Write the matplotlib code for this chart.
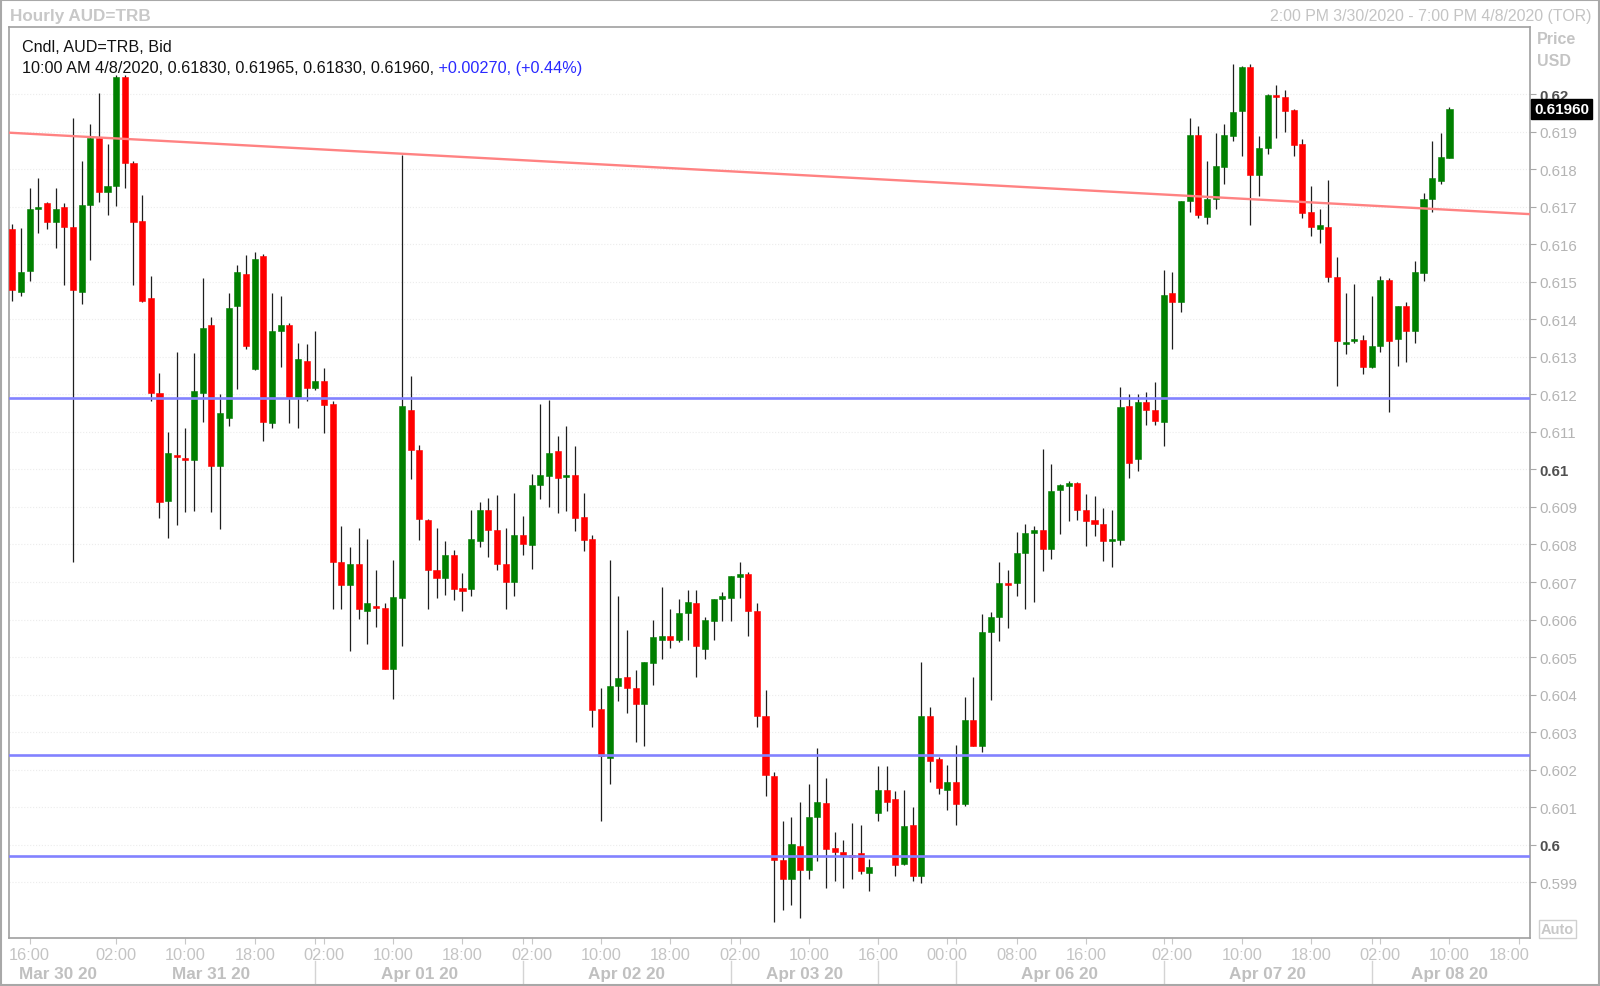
import numpy as np
import matplotlib.pyplot as plt
import matplotlib.transforms as mtransforms
from matplotlib.patches import Rectangle

plt.rcParams['font.family'] = ['Liberation Sans', 'DejaVu Sans']

# hourly candles, index 0 = 2:00 PM 3/30/2020
opens = [
    .61640, .61473, .61528, .61694, .61710, .61660, .61700, .61647, .61473, .61703,
    .61882, .61738, .61754, .62045, .61816, .61662, .61456, .61203, .60917, .61038,
    .61030, .61024, .61203, .61385, .61008, .61138, .61434, .61520, .61267, .61569,
    .61123, .61369, .61385, .61192, .61288, .61218, .61235, .61175, .60752, .60691,
    .60748, .60622, .60637, .60632, .60469, .60658, .61159, .61053, .60865, .60732,
    .60712, .60773, .60683, .60681, .60808, .60892, .60839, .60748, .60701, .60824,
    .60798, .60958, .60982, .61050, .60980, .60985, .60872, .60814, .60363, .60232,
    .60423, .60448, .60418, .60375, .60484, .60545, .60557, .60545, .60618, .60644,
    .60521, .60597, .60654, .60658, .60713, .60722, .60622, .60342, .60182, .59960,
    .59909, .59996, .59933, .60075, .60112, .59992, .59982, .59970, .59977, .59925,
    .60085, .60147, .60122, .59949, .60052, .59918, .60342, .60228, .60147, .60168,
    .60109, .60332, .60264, .60568, .60608, .60697, .60697, .60778, .60830, .60839,
    .60787, .60945, .60957, .60964, .60893, .60866, .60855, .60808, .60813, .61169,
    .61029, .61179, .61158, .61127, .61469, .61445, .61714, .61891, .61673, .61720,
    .61805, .61889, .61956, .62071, .61784, .61856, .61997, .61991, .61957, .61867,
    .61685, .61640, .61647, .61513, .61333, .61343, .61345, .61272, .61328, .61505,
    .61347, .61436, .61368, .61523, .61719, .61769, .61830,
]
highs = [
    .61655, .61642, .61750, .61775, .61712, .61750, .61710, .61935, .61822, .61921,
    .62003, .61868, .62050, .62050, .61822, .61731, .61514, .61256, .61099, .61314,
    .61109, .61309, .61509, .61405, .61201, .61469, .61545, .61571, .61580, .61575,
    .61469, .61461, .61390, .61338, .61334, .61370, .61269, .61181, .60850, .60793,
    .60844, .60814, .60732, .60643, .60758, .61837, .61249, .61065, .60867, .60844,
    .60809, .60785, .60724, .60892, .60913, .60923, .60933, .60844, .60938, .60877,
    .60989, .61173, .61185, .61089, .61115, .61061, .60938, .60824, .60418, .60758,
    .60664, .60572, .60465, .60487, .60599, .60687, .60629, .60654, .60678, .60678,
    .60608, .60656, .60673, .60717, .60754, .60727, .60644, .60413, .60194, .60064,
    .60075, .60115, .60161, .60259, .60177, .60033, .60012, .60058, .60054, .59961,
    .60209, .60209, .60142, .60147, .60101, .60486, .60367, .60235, .60213, .60266,
    .60394, .60448, .60615, .60620, .60754, .60732, .60834, .60854, .60849, .61055,
    .61014, .60960, .60970, .60966, .60934, .60929, .60898, .60892, .61220, .61200,
    .61200, .61205, .61232, .61531, .61525, .61715, .61936, .61916, .61822, .61896,
    .61920, .62080, .62075, .62080, .61889, .62000, .62024, .62012, .61960, .61880,
    .61756, .61695, .61771, .61565, .61469, .61494, .61359, .61461, .61514, .61510,
    .61436, .61445, .61554, .61735, .61876, .61896, .61965,
]
lows = [
    .61449, .61463, .61503, .61630, .61640, .61589, .61492, .60752, .61441, .61559,
    .61713, .61678, .61702, .61749, .61492, .61445, .61183, .60870, .60817, .60853,
    .60886, .60890, .61125, .60886, .60841, .61116, .61214, .61322, .61265, .61076,
    .61111, .61272, .61123, .61111, .61183, .61212, .61096, .60627, .60627, .60515,
    .60602, .60536, .60581, .60469, .60388, .60530, .60974, .60813, .60627, .60658,
    .60665, .60653, .60622, .60663, .60792, .60767, .60732, .60627, .60663, .60773,
    .60736, .60921, .60900, .60885, .60890, .60836, .60782, .60314, .60064, .60161,
    .60382, .60351, .60275, .60264, .60426, .60494, .60525, .60540, .60546, .60446,
    .60496, .60546, .60597, .60597, .60658, .60556, .60315, .60130, .59795, .59825,
    .59840, .59806, .59909, .59956, .59884, .59904, .59884, .59909, .59923, .59878,
    .60064, .60090, .59918, .59945, .59904, .59899, .60166, .60134, .60094, .60052,
    .60104, .60264, .60247, .60386, .60542, .60577, .60663, .60627, .60648, .60730,
    .60762, .60827, .60863, .60865, .60797, .60822, .60756, .60741, .60798, .60977,
    .60996, .61117, .61117, .61063, .61322, .61418, .61687, .61669, .61655, .61694,
    .61760, .61874, .61836, .61651, .61729, .61840, .61883, .61900, .61836, .61669,
    .61623, .61603, .61498, .61223, .61307, .61338, .61254, .61270, .61312, .61154,
    .61276, .61287, .61337, .61503, .61685, .61760, .61830,
]
closes = [
    .61478, .61525, .61695, .61700, .61660, .61695, .61646, .61478, .61704, .61882,
    .61738, .61756, .62045, .61816, .61660, .61449, .61203, .60912, .61045, .61034,
    .61024, .61210, .61376, .61008, .61149, .61431, .61525, .61328, .61560, .61127,
    .61370, .61385, .61192, .61294, .61218, .61235, .61172, .60752, .60691, .60748,
    .60627, .60643, .60632, .60469, .60659, .61168, .61053, .60867, .60732, .60712,
    .60773, .60681, .60676, .60814, .60892, .60838, .60748, .60701, .60824, .60801,
    .60959, .60984, .61044, .60977, .60985, .60870, .60813, .60360, .60237, .60423,
    .60444, .60417, .60375, .60487, .60554, .60557, .60545, .60618, .60648, .60530,
    .60599, .60654, .60664, .60715, .60722, .60622, .60342, .60187, .59960, .59909,
    .60002, .59933, .60075, .60115, .59990, .59980, .59973, .59968, .59930, .59942,
    .60147, .60115, .59945, .60049, .59918, .60342, .60223, .60150, .60168, .60109,
    .60332, .60264, .60568, .60608, .60697, .60691, .60778, .60830, .60838, .60787,
    .60943, .60958, .60964, .60891, .60863, .60854, .60808, .60814, .61165, .61018,
    .61179, .61157, .61129, .61465, .61445, .61714, .61891, .61679, .61720, .61807,
    .61891, .61951, .62071, .61784, .61856, .61997, .61991, .61956, .61865, .61683,
    .61645, .61651, .61513, .61343, .61340, .61344, .61272, .61330, .61505, .61343,
    .61436, .61368, .61525, .61720, .61776, .61833, .61960,
]

support_levels = [0.61190, 0.60238, 0.59970]
trend_x = [-0.4, 175.3]
trend_y = [0.61897, 0.61680]
last_price = 0.61960

xtick_pos = [2, 12, 20, 28, 36, 44, 52, 60, 68, 76, 84, 92, 100, 108, 116, 124,
             134, 142, 150, 158, 166, 174]
xtick_labels = ['16:00', '02:00', '10:00', '18:00', '02:00', '10:00', '18:00', '02:00',
                '10:00', '18:00', '02:00', '10:00', '16:00', '00:00', '08:00', '16:00',
                '02:00', '10:00', '18:00', '02:00', '10:00', '18:00']
day_pos = [5.3, 23, 47, 71, 91.5, 121, 145, 166]
day_labels = ['Mar 30 20', 'Mar 31 20', 'Apr 01 20', 'Apr 02 20', 'Apr 03 20',
              'Apr 06 20', 'Apr 07 20', 'Apr 08 20']
day_breaks = [35, 59, 83, 100, 109, 133, 157]
ytick_vals = [0.599, 0.600, 0.601, 0.602, 0.603, 0.604, 0.605, 0.606, 0.607, 0.608,
              0.609, 0.610, 0.611, 0.612, 0.613, 0.614, 0.615, 0.616, 0.617, 0.618,
              0.619, 0.620]
ytick_labels = ['0.599', '0.6', '0.601', '0.602', '0.603', '0.604', '0.605', '0.606',
                '0.607', '0.608', '0.609', '0.61', '0.611', '0.612', '0.613', '0.614',
                '0.615', '0.616', '0.617', '0.618', '0.619', '0.62']
bold_ticks = ['0.6', '0.61', '0.62']

W, H = 1600, 987
fig = plt.figure(figsize=(W / 100, H / 100), dpi=100)
ax = fig.add_axes([9 / W, 1 - 939 / H, 1521 / W, 911 / H])

idx = np.arange(len(opens))
o = np.array(opens)
c = np.array(closes)
colors = np.where(c >= o, '#008000', '#ff0000')

# candles
ax.vlines(idx, lows, highs, color='#1e1e1e', lw=0.9, zorder=2)
ax.bar(idx, np.maximum(np.abs(c - o), 0.00005), bottom=np.minimum(o, c), width=0.7,
       color=colors, edgecolor=colors, lw=0.4, zorder=3)

# drawn lines
for lvl in support_levels:
    ax.axhline(lvl, color='#8282ff', lw=1.9, zorder=4)
ax.plot(trend_x, trend_y, color='#ff8282', lw=1.7, zorder=4)

ax.set_xlim(-0.38, 175.3)
ax.set_ylim(0.597517, 0.621785)
for s in ax.spines.values():
    s.set_color('#a0a0a0')
    s.set_linewidth(1.2)

ax.grid(True, axis='y', color='#ececec', ls=':', lw=0.8, zorder=0)

# right price axis
ax.yaxis.tick_right()
ax.set_yticks(ytick_vals)
ax.set_yticklabels(ytick_labels)
ax.tick_params(axis='y', length=4, color='#a8a8a8', pad=3, labelsize=10.8,
               labelcolor='#b4b4b4')
for lab in ax.get_yticklabels():
    if lab.get_text() in bold_ticks:
        lab.set_fontweight('bold')
        lab.set_color('#505050')

# bottom time axis
ax.set_xticks(xtick_pos + day_breaks)
ax.tick_params(axis='x', length=4, color='#c8c8c8', labelbottom=False)
tb = mtransforms.blended_transform_factory(ax.transData, fig.transFigure)
for i, (p, t) in enumerate(zip(xtick_pos, xtick_labels)):
    if i == len(xtick_pos) - 1:
        ax.text(ax.get_xlim()[1], 1 - 956 / H, t, transform=tb, ha='right', va='center',
                color='#c4c4c4', fontsize=11.8, clip_on=False)
    else:
        ax.text(p, 1 - 956 / H, t, transform=tb, ha='center', va='center',
                color='#c4c4c4', fontsize=11.8, clip_on=False)
for p, t in zip(day_pos, day_labels):
    ax.text(p, 1 - 975 / H, t, transform=tb, ha='center', va='center',
            color='#c0c0c0', fontsize=12.3, fontweight='bold', clip_on=False)
for b in day_breaks:
    ax.plot([b, b], [1 - 962 / H, 1 - 985 / H], transform=tb, color='#d4d4d4',
            lw=1, clip_on=False)

# header texts
fig.text(10 / W, 1 - 16.5 / H, 'Hourly AUD=TRB', color='#c8c8c8', fontsize=12.3,
         fontweight='bold', va='center')
fig.text(1592 / W, 1 - 16.5 / H, '2:00 PM 3/30/2020 - 7:00 PM 4/8/2020 (TOR)',
         color='#c4c4c4', fontsize=11.4, ha='right', va='center')
fig.text(22 / W, 1 - 47.5 / H, 'Cndl, AUD=TRB, Bid', color='#111111', fontsize=11.6,
         va='center')
t1 = fig.text(22 / W, 1 - 68.5 / H,
              '10:00 AM 4/8/2020, 0.61830, 0.61965, 0.61830, 0.61960,',
              color='#111111', fontsize=11.7, va='center')
ax.annotate(' +0.00270, (+0.44%)', xy=(1, 0), xycoords=t1, ha='left', va='bottom',
            color='#2a2aff', fontsize=11.7, annotation_clip=False)

fig.text(1537 / W, 1 - 39 / H, 'Price', color='#c4c4c4', fontsize=11.5,
         fontweight='bold', va='center')
fig.text(1537 / W, 1 - 61 / H, 'USD', color='#c4c4c4', fontsize=11.5,
         fontweight='bold', va='center')

ax.annotate('%.5f' % last_price, xy=(1, last_price), xycoords=('axes fraction', 'data'),
            xytext=(3, 0), textcoords='offset points', ha='left', va='center',
            color='white', fontsize=11, fontweight='bold', annotation_clip=False,
            bbox=dict(boxstyle='square,pad=0.18', fc='black', ec='black'), zorder=6)

fig.text(1541 / W, 1 - 930 / H, 'Auto', color='#c8c8c8', fontsize=10.5,
         fontweight='bold', va='center',
         bbox=dict(boxstyle='square,pad=0.15', fc='white', ec='#d0d0d0'))

fig.add_artist(Rectangle((0.0005, 0.001), 0.999, 0.998, transform=fig.transFigure,
                         fill=False, ec='#a8a8a8', lw=1.5))

fig.savefig('out.png', dpi=100)
